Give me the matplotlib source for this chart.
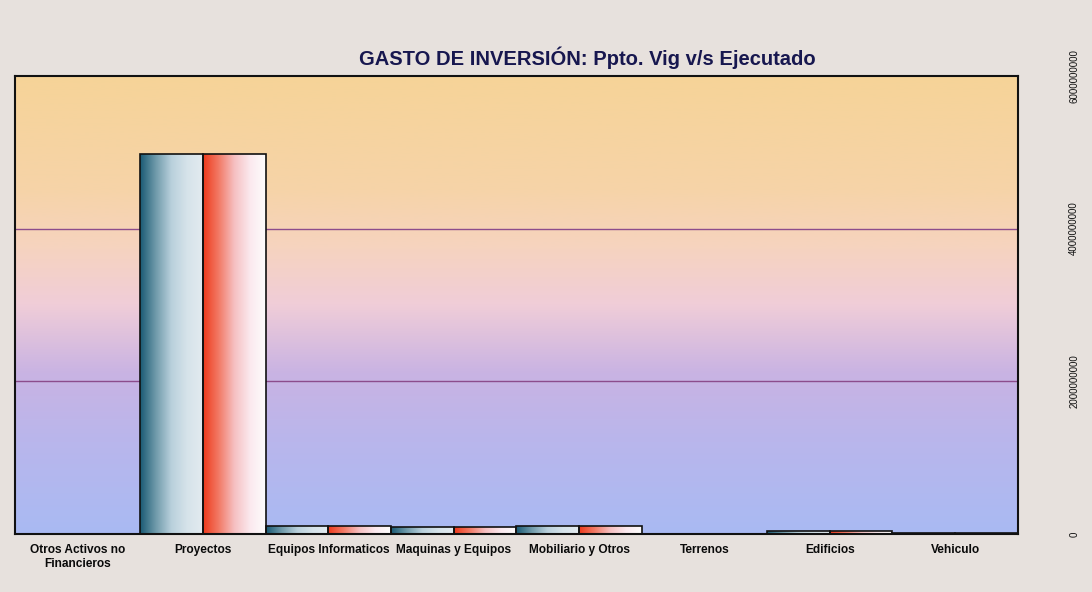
import matplotlib
matplotlib.use('Agg')
import matplotlib.pyplot as plt
import numpy as np
from matplotlib.colors import LinearSegmentedColormap

plt.rcParams['font.family'] = ['Liberation Sans', 'DejaVu Sans']

categorias = ['Otros Activos no\nFinancieros', 'Proyectos', 'Equipos Informaticos',
              'Maquinas y Equipos', 'Mobiliario y Otros', 'Terrenos', 'Edificios', 'Vehiculo']
ppto_vig = [0, 4.97e9, 1.05e8, 9.0e7, 1.0e8, 0, 4.0e7, 1.2e7]
ejecutado = [0, 4.97e9, 1.0e8, 8.5e7, 1.0e8, 0, 3.5e7, 1.0e7]
yticks = [0, 2e9, 4e9, 6e9]

fondo = LinearSegmentedColormap.from_list('fondo', [
    (0.0, '#a9baf3'), (0.2, '#b9b6ec'), (0.35, '#c9b3e3'),
    (0.5, '#f0cdd8'), (0.62, '#f6d3c0'), (0.75, '#f6d4a8'), (1.0, '#f6d398')])
azul = LinearSegmentedColormap.from_list('azul', ['#1a5a74', '#6f9aaa', '#b9d0dc', '#d6e3ea', '#e3ebf0'])
rojo = LinearSegmentedColormap.from_list('rojo', ['#ee3a1c', '#f27a66', '#f6c0c2', '#fbe9ee', '#fdfdfd'])

fig = plt.figure(figsize=(10.92, 5.92), dpi=100, facecolor='#e7e1dd')
ax = fig.add_axes([0.0137, 0.098, 0.9183, 0.774])

x = np.arange(len(categorias))
w = 0.5
ax.set_xlim(-0.5, len(categorias) - 0.5)
ax.set_ylim(0, 6e9)

# fondo degradado
grad = np.linspace(0, 1, 256).reshape(-1, 1)
ax.imshow(grad, cmap=fondo, origin='lower', aspect='auto',
          extent=[-0.5, len(categorias) - 0.5, 0, 6e9], zorder=0)

for yv in yticks[1:-1]:
    ax.axhline(yv, color='#8c4c8c', lw=1.0, zorder=1)

horiz = np.linspace(0, 1, 256).reshape(1, -1)
for serie, cmap, off in [(ppto_vig, azul, -w / 2), (ejecutado, rojo, w / 2)]:
    bars = ax.bar(x + off, serie, w, facecolor='none', edgecolor='#111111', lw=1.2, zorder=3)
    for b in bars:
        h = b.get_height()
        if h <= 0:
            continue
        x0 = b.get_x()
        im = ax.imshow(horiz, cmap=cmap, aspect='auto',
                       extent=[x0, x0 + b.get_width(), 0, h], zorder=2)
        im.set_clip_path(b)

for s in ax.spines.values():
    s.set_color('#111111')
    s.set_linewidth(1.5)

ax.set_xticks(x)
ax.set_xticklabels(categorias, fontsize=8.6, fontweight='bold', color='#0a0a0a')
ax.tick_params(axis='x', length=0, pad=7)

ax.yaxis.tick_right()
ax.set_yticks(yticks)
ax.set_yticklabels(['%d' % v for v in yticks], rotation=90, fontsize=7,
                   va='center', color='#111111')
ax.tick_params(axis='y', length=0, pad=37)

fig.text(587 / 1092, 1 - 58 / 592, 'GASTO DE INVERSIÓN: Ppto. Vig v/s Ejecutado',
         ha='center', va='center', fontsize=14.5, fontweight='bold', color='#17174f')

fig.savefig('out.png', dpi=100, facecolor=fig.get_facecolor())
